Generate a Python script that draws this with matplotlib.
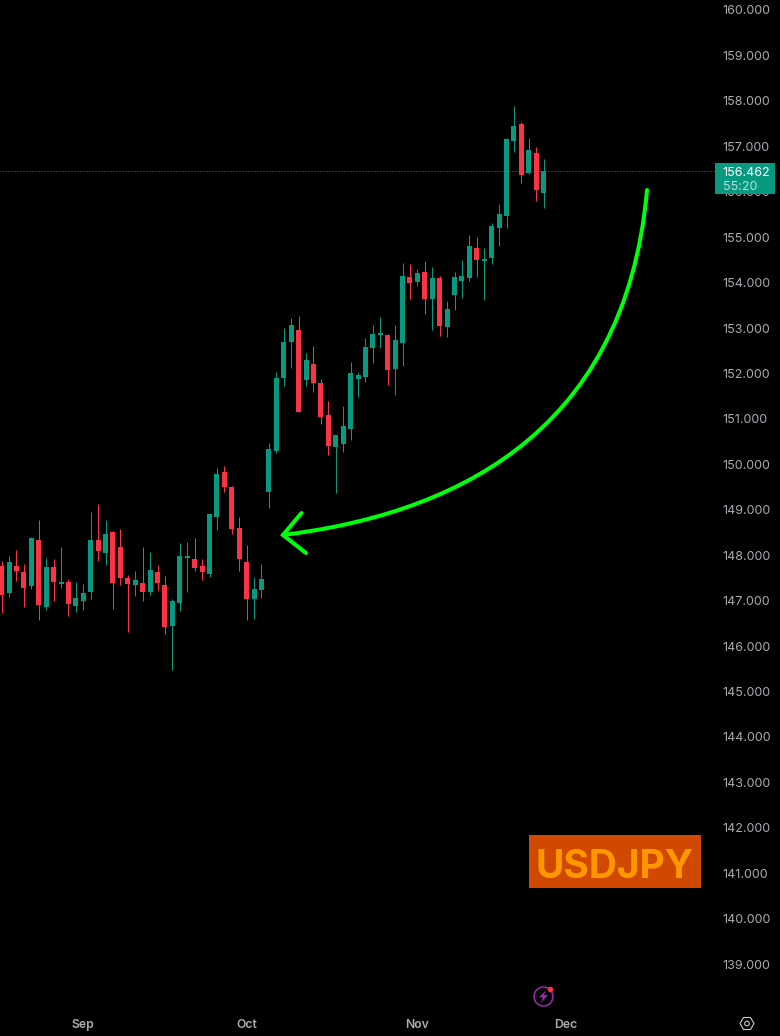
import matplotlib
matplotlib.use("Agg")
import matplotlib.pyplot as plt
import numpy as np
from matplotlib.path import Path
from matplotlib.patches import PathPatch, Rectangle, Circle, Polygon
from matplotlib.transforms import Affine2D

# USDJPY daily OHLC
highs = [147.87,147.98,148.11,147.81,148.40,148.77,147.94,147.92,148.18,147.47,147.41,147.37,148.95,149.13,148.77,148.53,148.58,147.56,147.65,
         148.18,148.07,147.78,147.54,147.03,148.27,148.29,148.38,147.92,148.91,149.92,149.96,149.52,148.84,148.22,147.52,147.81,150.47,
         152.03,153.00,153.22,153.27,152.45,152.60,151.87,151.39,150.65,151.28,152.25,152.03,152.79,153.07,153.24,152.87,153.07,
         154.43,154.41,154.30,154.47,154.34,154.15,153.59,154.23,154.49,155.05,155.00,154.76,155.31,155.73,157.18,157.89,157.53,157.18,156.98,156.72]
lows = [146.73,147.08,147.43,146.86,147.25,146.57,146.79,146.99,147.28,146.66,146.75,146.79,147.03,147.87,147.78,146.81,147.34,146.31,147.10,
        146.99,147.12,147.23,146.26,145.47,146.77,147.19,147.65,147.45,147.52,148.55,149.39,148.47,147.65,146.57,146.59,147.06,149.04,
        150.25,151.72,152.12,151.15,151.72,151.59,150.88,150.21,149.37,150.27,150.54,151.48,151.81,152.23,152.56,151.74,151.52,
        152.16,153.64,153.92,153.31,152.96,152.83,152.80,153.40,153.66,154.04,154.12,153.62,154.41,154.80,155.20,156.87,156.19,156.39,155.80,155.64]
opens = [147.76,147.17,147.76,147.63,147.32,148.33,146.86,147.74,147.37,147.41,146.88,146.99,147.19,148.33,148.05,148.51,148.18,147.50,147.34,
         147.39,147.19,147.63,147.34,146.44,146.95,147.94,147.92,147.76,147.58,148.84,149.83,149.50,148.60,147.85,147.03,147.23,149.39,
         150.29,151.90,152.69,152.96,151.85,152.21,151.79,151.09,150.38,150.45,150.77,151.87,151.92,152.56,152.85,152.85,152.10,
         152.67,154.12,154.01,154.23,153.64,154.10,153.02,153.73,154.04,154.10,154.76,154.47,154.54,155.20,155.47,157.12,157.49,156.41,156.85,155.97]
closes = [147.12,147.85,147.65,147.28,148.38,146.90,147.74,147.41,147.41,146.92,147.06,147.17,148.33,148.09,148.47,147.39,147.50,147.37,147.45,
          147.19,147.67,147.39,146.42,146.99,147.98,147.96,147.72,147.63,148.91,149.79,149.50,148.58,147.92,147.03,147.25,147.47,150.34,
          151.90,152.69,153.07,151.15,152.30,151.79,151.04,150.41,150.65,150.85,152.00,151.96,152.58,152.87,152.87,152.08,152.74,
          154.15,153.99,154.21,153.64,154.10,153.05,153.42,154.12,154.15,154.80,154.49,154.52,155.25,155.51,157.16,157.45,156.37,156.92,156.04,156.46]
price_ticks = list(range(139, 161))
month_labels = ["Sep", "Oct", "Nov", "Dec"]
month_index = [11, 33.05, 56, 76.0]
last_price = 156.462
symbol = "USDJPY"
countdown = "55:20"

UP, DOWN = "#089981", "#fc3344"
GREY = "#a9abb0"
W, H = 780, 1036
plt.rcParams["font.family"] = ["Inter", "DejaVu Sans"]

fig = plt.figure(figsize=(W/100, H/100), dpi=100, facecolor="black")
ax = fig.add_axes([0, 26/H, 1, 1-26/H], facecolor="black")
px_per_bar = 7.425
ax.set_xlim(-1.6/px_per_bar, (W-1.6)/px_per_bar)
px_per_unit = 45.43
ax.set_ylim(160.22-(H-26)/px_per_unit, 160.22)
for s in ax.spines.values():
    s.set_visible(False)

idx = np.arange(len(opens))
o, h, l, c = map(np.array, (opens, highs, lows, closes))
cols = [UP if a >= b else DOWN for a, b in zip(c, o)]
ax.plot([-1, 714/px_per_bar], [last_price]*2, color=UP, lw=0.72, ls=(0, (1, 2)), zorder=1)
wicks = ax.vlines(idx, l, h, colors=cols, lw=0.72, zorder=2)
wicks.set_snap(True)
bot = np.minimum(o, c)
hgt = np.maximum(np.abs(c-o), 1.5/px_per_unit)
ax.bar(idx, hgt, bottom=bot, width=5/px_per_bar, color=cols, linewidth=0, zorder=3)

ax.set_yticks(price_ticks)
ax.set_yticklabels([f"{v:.3f}" for v in price_ticks])
ax.tick_params(axis="y", left=False, labelleft=False, right=False, labelright=True,
               pad=-45, labelsize=9, labelcolor=GREY)
ax.set_xticks(month_index)
ax.set_xticklabels(month_labels, fontweight="semibold")
ax.tick_params(axis="x", length=0, pad=6.5, labelsize=8.8, labelcolor=GREY)

# pixel-space overlay helper for annotations
px = Affine2D().scale(1, -1).translate(0, H)
def add(a):
    a.set_transform(px)
    a.set_clip_on(False)
    a.set_zorder(5)
    fig.add_artist(a)
def label(x, y, s, **kw):
    fig.text(x/W, 1-y/H, s, zorder=6, **kw)

# curved arrow
curve = Path([(647, 190), (625, 440), (445, 515), (283, 535)],
             [Path.MOVETO, Path.CURVE4, Path.CURVE4, Path.CURVE4])
add(PathPatch(curve, fc="none", ec="#00ff0a", lw=2.9, capstyle="round"))
head = Path([(301.5, 513), (283, 535), (306, 553)], [Path.MOVETO, Path.LINETO, Path.LINETO])
add(PathPatch(head, fc="none", ec="#00ff0a", lw=2.9, capstyle="round", joinstyle="miter"))

# symbol box
add(Rectangle((529, 835), 172, 53, fc="#d14900", ec="none"))
label(615, 863, symbol, color="#ff9800", fontsize=28, fontweight="bold", ha="center", va="center_baseline")

# last price tag
add(Rectangle((715, 163), 60, 31, fc=UP, ec="none"))
label(722.5, 172, f"{last_price:.3f}", color="white", fontsize=9, ha="left", va="center_baseline")
label(723, 186, countdown, color="#b5e0d8", fontsize=9, ha="left", va="center_baseline")

# flash icon
add(Circle((543.5, 996.5), 9.5, fc="none", ec="#9c27b0", lw=1.1))
add(Polygon([(546, 990), (539, 997.5), (543, 997.5), (540.5, 1003), (548, 995), (544, 995)], fc="#9c27b0", ec="none"))
add(Circle((550.5, 989.5), 2.8, fc="#f23645", ec="none"))

# settings hexagon
hex_pts = [(740, 1023.5), (743.5, 1017.5), (750.5, 1017.5), (754, 1023.5), (750.5, 1029.5), (743.5, 1029.5)]
add(Polygon(hex_pts, closed=True, fc="none", ec="#c8c8c8", lw=0.8))
add(Circle((747, 1023.5), 2.3, fc="none", ec="#c8c8c8", lw=0.8))

fig.savefig("out.png", dpi=100, facecolor="black")
